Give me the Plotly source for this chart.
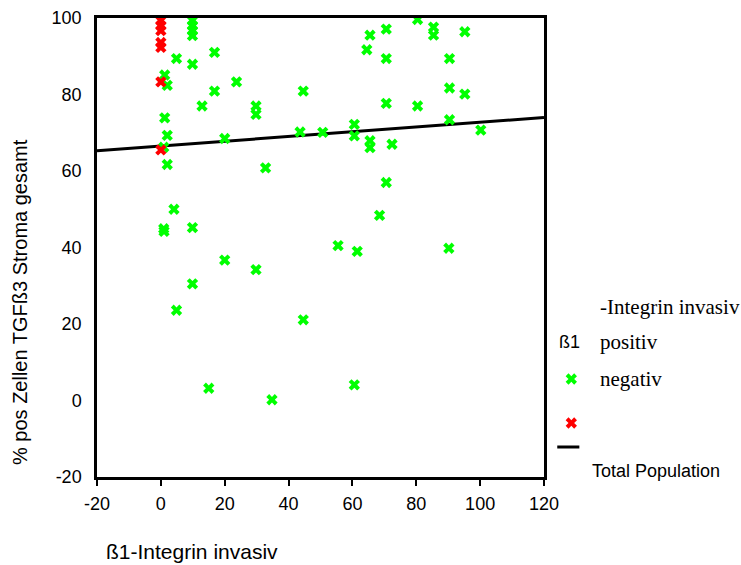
import plotly.graph_objects as go

# ---- data ----
neg_x = [9.9, 9.9, 9.9, 9.9, 4.9, 16.8, 9.9, 1.2, 2.0, 23.7, 16.8, 44.6, 12.9, 29.8, 29.8,
         1.2, 2.0, 20.0, 43.6, 0.9, 2.0, 32.8, 4.1, 50.7, 60.6, 60.6, 65.5, 65.5, 72.4, 70.6,
         68.5, 80.4, 70.6, 65.5, 85.4, 85.4, 95.2, 64.5, 70.6, 90.4, 90.4, 95.2, 70.6, 80.4,
         90.4, 100.2, 0.9, 1.0, 9.9, 20.0, 29.8, 55.5, 61.5, 90.2, 9.9, 4.9, 44.6, 15.0, 34.8, 60.6]
neg_y = [99.3, 98.0, 96.7, 95.4, 89.4, 91.0, 87.9, 85.1, 82.4, 83.3, 80.9, 80.9, 77.0, 77.0, 74.8,
         73.9, 69.3, 68.5, 70.2, 66.2, 61.7, 60.8, 50.0, 70.1, 72.2, 69.2, 67.9, 66.1, 67.0, 57.0,
         48.4, 99.6, 97.1, 95.5, 97.6, 95.5, 96.4, 91.7, 89.4, 89.4, 81.7, 80.1, 77.7, 77.0,
         73.4, 70.7, 44.9, 44.2, 45.2, 36.7, 34.2, 40.5, 39.0, 39.8, 30.5, 23.6, 21.1, 3.2, 0.2, 4.1]
pos_x = [0, 0, 0, 0, 0, 0, 0]
pos_y = [99.3, 98.0, 96.7, 93.6, 92.3, 83.3, 65.5]
fit_x = [-20, 120]
fit_y = [65.3, 74.0]

x_ticks = [-20, 0, 20, 40, 60, 80, 100, 120]
x_tick_labels = ["-20", "0", "20", "40", "60", "80", "100", "120"]
y_ticks = [-20, 0, 20, 40, 60, 80, 100]
y_tick_labels = ["-20", "0", "20", "40", "60", "80", "100"]

GREEN = "#00ff00"
RED = "#ff0000"
SANS = "Liberation Sans, Arial, sans-serif"
SERIF = "Liberation Serif, Times New Roman, serif"

fig = go.Figure()
fig.add_trace(go.Scatter(x=fit_x, y=fit_y, mode="lines",
                         line=dict(color="black", width=3), showlegend=False))
fig.add_trace(go.Scatter(x=neg_x, y=neg_y, mode="markers",
                         marker=dict(symbol="x", size=10, color=GREEN, line=dict(width=0)),
                         showlegend=False))
fig.add_trace(go.Scatter(x=pos_x, y=pos_y, mode="markers",
                         marker=dict(symbol="x", size=10, color=RED, line=dict(width=0)),
                         showlegend=False))

# ---- hand-made legend on a pixel-unit overlay axis ----
fig.add_trace(go.Scatter(x=[572], y=[379], xaxis="x2", yaxis="y2", mode="markers",
                         marker=dict(symbol="x", size=10, color=GREEN, line=dict(width=0)),
                         showlegend=False, cliponaxis=False))
fig.add_trace(go.Scatter(x=[572], y=[423], xaxis="x2", yaxis="y2", mode="markers",
                         marker=dict(symbol="x", size=10, color=RED, line=dict(width=0)),
                         showlegend=False, cliponaxis=False))
fig.add_trace(go.Scatter(x=[558, 580], y=[447, 447], xaxis="x2", yaxis="y2", mode="lines",
                         line=dict(color="black", width=3), showlegend=False, cliponaxis=False))

L, T, B = 97, 18, 88
W, H = 741, 565
plot_right = 544
dom_main = (plot_right - L) / (W - L)

fig.update_layout(
    width=W, height=H, autosize=False,
    margin=dict(l=L, r=0, t=T, b=B, pad=0, autoexpand=False),
    paper_bgcolor="white", plot_bgcolor="white",
    font=dict(family=SANS, size=18, color="black"),
    xaxis=dict(domain=[0, dom_main], range=[-20, 120], tickvals=x_ticks,
               ticktext=x_tick_labels,
               showgrid=False, zeroline=False, showline=True, linecolor="black",
               linewidth=2.5, mirror=True, ticks="outside", ticklen=6, tickwidth=2,
               tickcolor="black", ticklabelstandoff=3,
               tickfont=dict(family=SANS, size=18, color="black")),
    yaxis=dict(range=[-20, 100], tickvals=y_ticks, ticktext=y_tick_labels,
               showgrid=False, zeroline=False, showline=True, linecolor="black",
               linewidth=2.5, mirror=True, ticks="", ticklabelstandoff=9,
               tickfont=dict(family=SANS, size=18, color="black")),
    xaxis2=dict(domain=[dom_main + 0.005, 1], range=[548, 741], visible=False,
                anchor="y2", fixedrange=True),
    yaxis2=dict(domain=[0, 1], range=[477, 18], visible=False, anchor="x2",
                fixedrange=True),
)

ann = [
    dict(text="% pos Zellen TGFß3 Stroma gesamt", xref="paper", yref="paper",
         x=(20 - L) / (W - L), y=(477 - 302) / (477 - T), textangle=-90,
         xanchor="center", yanchor="middle", showarrow=False,
         font=dict(family=SANS, size=20, color="black")),
    dict(text="ß1-Integrin invasiv", xref="paper", yref="paper",
         x=(104 - L) / (W - L), y=(477 - 551) / (477 - T),
         xanchor="left", yanchor="middle", showarrow=False,
         font=dict(family=SANS, size=21, color="black")),
    dict(text="-Integrin invasiv", xref="x2", yref="y2", x=599, y=307,
         xanchor="left", yanchor="middle", showarrow=False,
         font=dict(family=SERIF, size=21, color="black")),
    dict(text="ß1", xref="x2", yref="y2", x=570, y=342,
         xanchor="center", yanchor="middle", showarrow=False,
         font=dict(family=SANS, size=18, color="black")),
    dict(text="positiv", xref="x2", yref="y2", x=599, y=342,
         xanchor="left", yanchor="middle", showarrow=False,
         font=dict(family=SERIF, size=21, color="black")),
    dict(text="negativ", xref="x2", yref="y2", x=599, y=379,
         xanchor="left", yanchor="middle", showarrow=False,
         font=dict(family=SERIF, size=21, color="black")),
    dict(text="Total Population", xref="x2", yref="y2", x=591, y=471,
         xanchor="left", yanchor="middle", showarrow=False,
         font=dict(family=SANS, size=18, color="black")),
]
fig.update_layout(annotations=ann)

post = (
    "document.documentElement.style.margin='0';"
    "document.body.style.margin='0';"
    "document.body.style.overflow='hidden';"
)
fig.write_html("out.html", config={"displayModeBar": False, "responsive": False},
               post_script=post)
